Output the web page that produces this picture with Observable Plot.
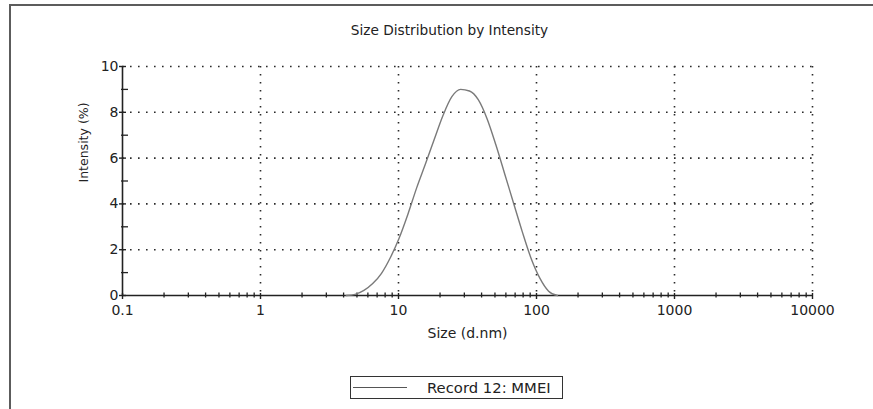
<!DOCTYPE html>
<html>
<head>
<meta charset="utf-8">
<script src="https://cdn.jsdelivr.net/npm/d3@7"></script>
<script src="https://cdn.jsdelivr.net/npm/@observablehq/plot@0.6"></script>
<style>
  html, body { margin: 0; padding: 0; background: #fff; }
  #wrap { position: relative; width: 873px; height: 409px; overflow: hidden; font-family: "DejaVu Sans", sans-serif; color: #222; }
  #frame { position: absolute; left: 9px; top: 4px; width: 900px; height: 500px; border-top: 2px solid #5c5c5c; border-left: 2px solid #5c5c5c; }
  #chart { position: absolute; left: 0; top: 0; }
  #legend { position: absolute; left: 350px; top: 376px; width: 213px; height: 23px; box-sizing: border-box; border: 1.5px solid #333; background: #fff; }
  #legend .sw { position: absolute; left: 2px; top: 10px; width: 54px; height: 0; border-top: 1.2px solid #555; }
  #legend .lbl { position: absolute; left: 76px; top: 1px; font-size: 14.8px; line-height: 19px; white-space: nowrap; color: #222; }
</style>
</head>
<body>
<div id="wrap">
  <div id="frame"></div>
  <div id="chart"></div>
  <div id="legend"><div class="sw"></div><div class="lbl" id="legendLabel"></div></div>
</div>
<script>
// ---- data ----
const titleText = "Size Distribution by Intensity";
const xLabelText = "Size (d.nm)";
const yLabelText = "Intensity (%)";
const seriesName = "Record 12: MMEI";

const sizes = [4.187, 4.849, 5.615, 6.503, 7.531, 8.721, 10.10, 11.70, 13.54, 15.69, 18.17, 21.04, 24.36, 28.21, 32.67, 37.84, 43.82, 50.75, 58.77, 68.06, 78.82, 91.28, 105.7, 122.4, 141.8];
const intensity = [0, 0.05, 0.22, 0.52, 0.97, 1.65, 2.5, 3.55, 4.7, 5.75, 6.82, 7.87, 8.68, 9.0, 8.93, 8.55, 7.72, 6.58, 5.32, 4.05, 2.79, 1.63, 0.76, 0.19, 0];

const xDomain = [0.1, 10000];
const yDomain = [0, 10];
const xMajor = [0.1, 1, 10, 100, 1000, 10000];
const xTickLabels = ["0.1", "1", "10", "100", "1000", "10000"];
const xMinor = [0.2,0.3,0.4,0.5,0.6,0.7,0.8,0.9, 2,3,4,5,6,7,8,9, 20,30,40,50,60,70,80,90, 200,300,400,500,600,700,800,900, 2000,3000,4000,5000,6000,7000,8000,9000];
const xGrid = [1, 10, 100, 1000, 10000];
const yMajor = [0, 2, 4, 6, 8, 10];
const yMinor = [1, 3, 5, 7, 9];
const yGrid = [2, 4, 6, 8, 10];

const table = sizes.map((s, i) => ({size: s, value: intensity[i]}));
const xTickTable = xMajor.map((v, i) => ({v, label: xTickLabels[i]}));

const ink = "#222";
const gridStyle = {stroke: "#2a2a2a", strokeWidth: 1.6, strokeDasharray: "1.6,6.4"};

const chart = Plot.plot({
  width: 873,
  height: 409,
  marginLeft: 122,
  marginRight: 61,
  marginTop: 66,
  marginBottom: 114,
  style: {fontFamily: "DejaVu Sans, sans-serif", fontSize: "14px", color: ink, background: "transparent", overflow: "visible"},
  x: {type: "log", domain: xDomain, axis: null},
  y: {domain: yDomain, axis: null},
  marks: [
    Plot.ruleX(xGrid, gridStyle),
    Plot.ruleY(yGrid, gridStyle),
    // axis lines
    Plot.ruleY([yDomain[0]], {stroke: ink, strokeWidth: 1.6}),
    Plot.ruleX([xDomain[0]], {stroke: ink, strokeWidth: 1.6}),
    // x ticks
    Plot.axisX(xMajor, {anchor: "bottom", tickSize: 6, dy: -2, fill: "none", stroke: ink, strokeWidth: 1.4, label: null}),
    Plot.axisX(xMinor, {anchor: "bottom", tickSize: 5, dy: -2.5, fill: "none", stroke: ink, strokeWidth: 1.3, label: null}),
    // x tick labels
    Plot.text(xTickTable, {x: "v", text: "label", frameAnchor: "bottom", dy: 19, fontSize: 14, fill: ink}),
    // y ticks
    Plot.axisY(yMajor, {anchor: "left", tickSize: 7, dx: 4, fill: "none", stroke: ink, strokeWidth: 1.4, label: null}),
    Plot.axisY(yMinor, {anchor: "left", tickSize: 7, dx: 6, fill: "none", stroke: ink, strokeWidth: 1.3, label: null}),
    Plot.axisY(yMajor, {anchor: "left", tickSize: 0, tickPadding: 4, fontSize: 14, fill: ink, label: null}),
    // data
    Plot.line(table, {x: "size", y: "value", stroke: "#7a7a7a", strokeWidth: 1.4, curve: "monotone-x"}),
    // texts
    Plot.text([titleText], {text: d => d, frameAnchor: "top", dy: -41, dx: -18, fontSize: 13.7, fill: ink}),
    Plot.text([xLabelText], {text: d => d, frameAnchor: "bottom", dy: 42, fontSize: 14, fill: ink}),
    Plot.text([yLabelText], {text: d => d, frameAnchor: "left", dx: -39, dy: 1.5, rotate: -90, fontSize: 12.5, fill: ink})
  ]
});

document.getElementById("chart").appendChild(chart);
document.getElementById("legendLabel").textContent = seriesName;
</script>
</body>
</html>
